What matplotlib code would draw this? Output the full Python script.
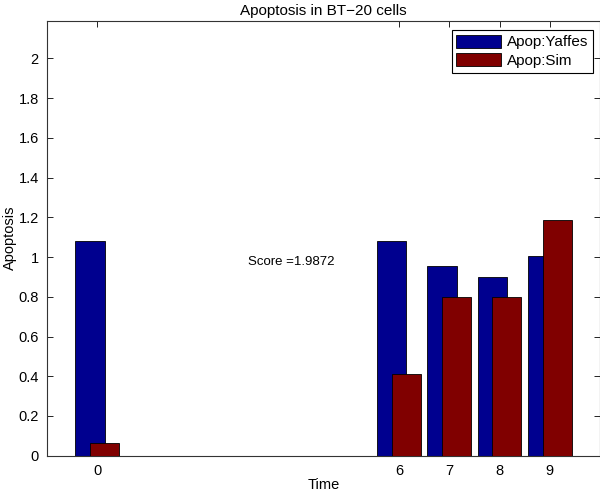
import matplotlib
matplotlib.use("Agg")
import matplotlib.pyplot as plt
import numpy as np

# data
times = [0, 6, 7, 8, 9]
apop_yaffes = [1.08, 1.08, 0.955, 0.90, 1.005]
apop_sim = [0.062, 0.41, 0.797, 0.797, 1.186]
score = 1.9872

plt.rcParams['font.family'] = ['Liberation Sans', 'DejaVu Sans']
plt.rcParams['font.size'] = 10

fig = plt.figure(figsize=(6.0, 4.92), dpi=100)
ax = fig.add_axes([0.0783, 0.0738, 0.922, 0.884])

x = np.array(times, dtype=float)
width = 0.58
off = 0.145
ax.bar(x - off, apop_yaffes, width, color='#00008f', edgecolor='black',
       linewidth=0.6, label='Apop:Yaffes', zorder=2)
ax.bar(x + off, apop_sim, width, color='#800000', edgecolor='black',
       linewidth=0.6, label='Apop:Sim', zorder=3)

ax.set_xlim(-1, 10)
ax.set_ylim(0, 2.19)
ax.set_xticks(times)
ax.set_yticks(np.arange(0, 2.01, 0.2))
ax.set_yticklabels(['0', '0.2', '0.4', '0.6', '0.8', '1', '1.2', '1.4', '1.6', '1.8', '2'])
ax.tick_params(direction='in', top=True, right=True, length=4, width=0.6,
               labelsize=10.5, pad=6)
for s in ax.spines.values():
    s.set_linewidth(0.8)
    s.set_color('#333333')

ax.text(3, 0.975, 'Score =' + str(score), ha='left', va='center', fontsize=9.5)

ax.set_title('Apoptosis in BT\u221220 cells', fontsize=11, pad=4)
ax.set_xlabel('Time', fontsize=10.5, labelpad=0)
ax.set_ylabel('Apoptosis', fontsize=10.5, labelpad=1)

leg = ax.legend(loc='upper right', bbox_to_anchor=(0.988, 0.939),
                bbox_transform=fig.transFigure, fancybox=False, framealpha=1,
                edgecolor='black', handlelength=2.95, handleheight=0.95,
                borderpad=0.3, labelspacing=0.25, handletextpad=0.35,
                borderaxespad=0, fontsize=11)
leg.get_frame().set_linewidth(0.8)

fig.savefig('out.png', dpi=100)
